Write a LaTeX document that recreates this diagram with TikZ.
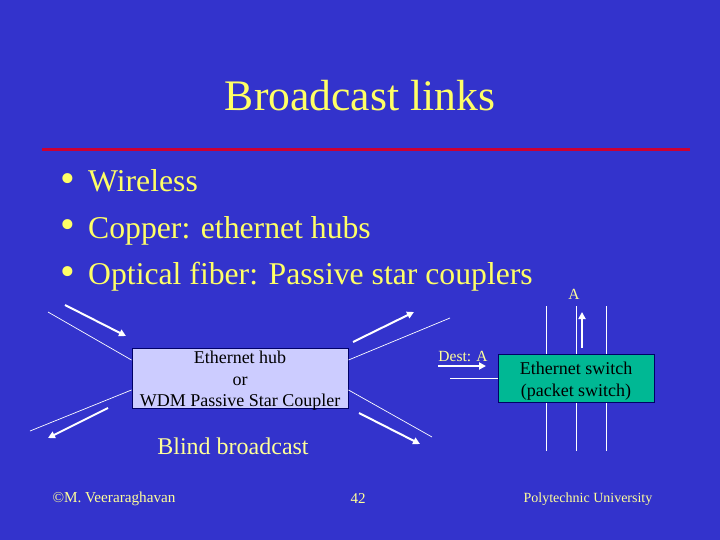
\documentclass[tikz,border=0pt]{standalone}
\usepackage{fontspec}
\setmainfont{Liberation Serif}
\usetikzlibrary{arrows.meta}
\definecolor{slideblue}{HTML}{3333CC}
\definecolor{slideyellow}{HTML}{FFFF66}
\definecolor{paleyellow}{HTML}{FFFF99}
\definecolor{rulered}{HTML}{CC0033}
\definecolor{hubfill}{HTML}{CCCCFF}
\definecolor{switchfill}{HTML}{00B894}
\tikzset{
	wire/.style={draw=white, line width=0.7pt},
	flow/.style={draw=white, line width=2pt, -{Triangle[length=7pt,width=7pt]}},
	titlebox/.style={inner sep=0pt, text=slideyellow, font=\fontsize{43.6}{44}\selectfont},
	bullet/.style={inner sep=0pt, anchor=base west, text=slideyellow, font=\fontsize{31.7}{32}\selectfont},
	dot/.style={inner sep=0pt, anchor=base west, text=slideyellow, font=\fontsize{42}{42}\selectfont},
	small/.style={inner sep=0pt, text=paleyellow, font=\fontsize{15.5}{16}\selectfont},
	foot/.style={inner sep=0pt, text=paleyellow, font=\fontsize{14}{15}\selectfont},
	boxtext/.style={draw=black!60!blue, line width=1pt, inner sep=0pt, text=black, align=center, font=\fontsize{18}{21.5}\selectfont},
}
\begin{document}
\begin{tikzpicture}[x=1pt, y=-1pt]
	\fill[slideblue] (0,0) rectangle (720,540);
	\useasboundingbox (0,0) rectangle (720,540);

	\node[titlebox] (title) at (360,96) {Broadcast links};
	\coordinate (ruleL) at (42,150);
	\coordinate (ruleR) at (690,150);
	\draw[rulered, line width=3pt] (ruleL) -- (ruleR);

	\node[dot] (b1) at (60,193) {•};
	\node[bullet] (t1) at (88,192) {Wireless};
	\node[dot] (b2) at (60,239) {•};
	\node[bullet] (t2) at (88,238) {Copper: ethernet hubs};
	\node[dot] (b3) at (60,285) {•};
	\node[bullet] (t3) at (88,284) {Optical fiber: Passive star couplers};

	% hub
	\node[boxtext, fill=hubfill, minimum width=216pt, minimum height=60pt] (hub) at (240,378) {\rule{0pt}{14pt}Ethernet hub\\or\\\smash{WDM Passive Star Coupler}};
	\coordinate (hubNW) at (48,312);
	\coordinate (hubSW) at (30,431);
	\coordinate (hubNE) at (450,318);
	\coordinate (hubSE) at (432,437);
	\draw[wire] (hubNW) -- (hub.west |- 0,360);
	\draw[wire] (hubSW) -- (hub.west |- 0,390);
	\draw[wire] (hubNE) -- (hub.east |- 0,360);
	\draw[wire] (hubSE) -- (hub.east |- 0,390);

	\coordinate (inA) at (65,305);
	\coordinate (inB) at (126,336);
	\coordinate (outA) at (108,408);
	\coordinate (outB) at (48,438);
	\coordinate (upA) at (353,342);
	\coordinate (upB) at (414,312);
	\coordinate (downA) at (359,413);
	\coordinate (downB) at (420,444);
	\draw[flow] (inA) -- (inB);
	\draw[flow] (outA) -- (outB);
	\draw[flow] (upA) -- (upB);
	\draw[flow] (downA) -- (downB);

	\node[small, font=\fontsize{24}{24}\selectfont] (blind) at (233,446) {Blind broadcast};

	% switch
	\node[boxtext, fill=switchfill, minimum width=156pt, minimum height=48pt, font=\fontsize{18}{22}\selectfont] (switch) at (576,378) {\rule{0pt}{19pt}Ethernet switch\\(packet switch)};
	\foreach \px/\name in {546/a,576/b,606/c}{
		\coordinate (top\name) at (\px,306);
		\coordinate (bot\name) at (\px,451);
		\draw[wire] (top\name) -- (switch.north -| top\name);
		\draw[wire] (bot\name) -- (switch.south -| bot\name);
	}
	\coordinate (wireIn) at (450,378);
	\draw[wire] (wireIn) -- (switch.west |- wireIn);

	\node[small] (dest) at (463,356) {Dest: A};
	\coordinate (destA) at (438,366);
	\coordinate (destB) at (486,366);
	\draw[flow] (destA) -- (destB);
	\node[small] (portA) at (574,294) {A};
	\coordinate (portB) at (582,348);
	\coordinate (portC) at (582,312);
	\draw[flow] (portB) -- (portC);

	\node[foot, font=\fontsize{15.2}{15}\selectfont] (author) at (114,499) {©M. Veeraraghavan};
	\node[foot, font=\fontsize{15}{15}\selectfont] (page) at (358,499) {42};
	\node[foot] (school) at (588,499) {Polytechnic University};
\end{tikzpicture}
\end{document}
